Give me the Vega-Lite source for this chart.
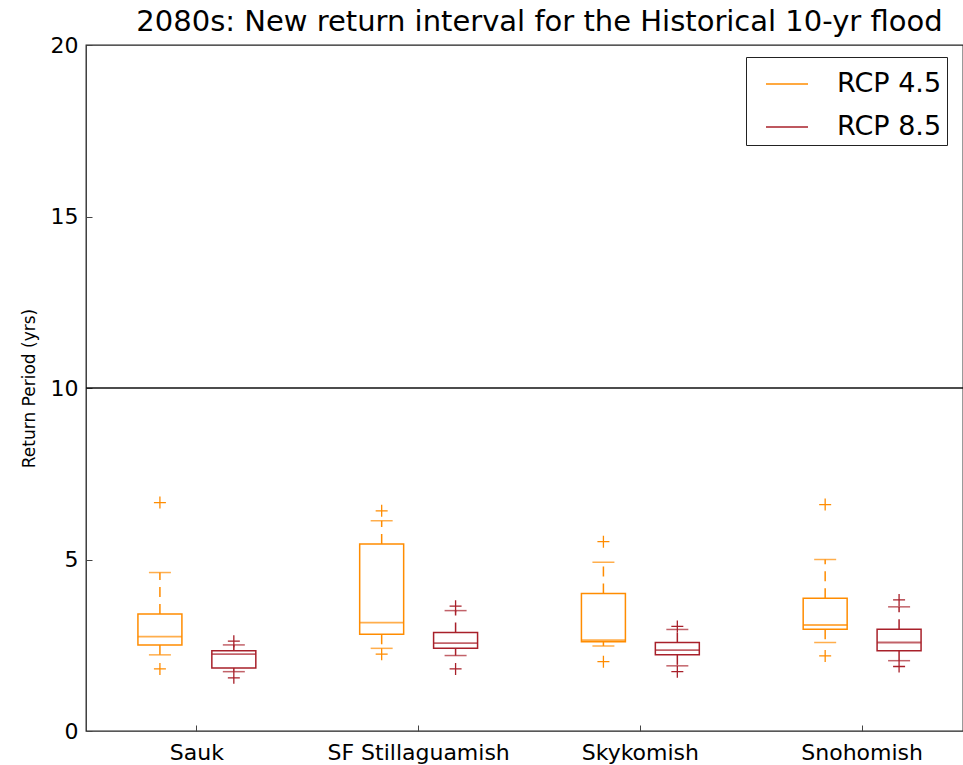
{
  "$schema": "https://vega.github.io/schema/vega-lite/v6.json",
  "autosize": {"type": "none"},
  "padding": {"left": 86, "top": 45, "right": 0, "bottom": 34},
  "width": 877,
  "height": 686,
  "background": "white",
  "title": {
    "text": "2080s: New return interval for the Historical 10-yr flood",
    "font": "DejaVu Sans",
    "fontSize": 29,
    "fontWeight": "normal",
    "color": "black",
    "anchor": "middle",
    "frame": "group",
    "baseline": "alphabetic",
    "offset": 12,
    "dy": 38,
    "dx": 15
  },
  "config": {
    "view": {"stroke": "#222", "strokeWidth": 1.3},
    "font": "DejaVu Sans",
    "axis": {"grid": false, "domain": false, "labelColor": "black", "tickColor": "#444", "labelFont": "DejaVu Sans"}
  },
  "datasets": {
    "boxes": [
      {"basin": "Sauk", "rcp": "RCP 4.5", "lower": 2.22, "q1": 2.51, "median": 2.75, "q3": 3.41, "upper": 4.62},
      {"basin": "Sauk", "rcp": "RCP 8.5", "lower": 1.73, "q1": 1.84, "median": 2.24, "q3": 2.34, "upper": 2.51},
      {"basin": "SF Stillaguamish", "rcp": "RCP 4.5", "lower": 2.41, "q1": 2.82, "median": 3.16, "q3": 5.45, "upper": 6.13},
      {"basin": "SF Stillaguamish", "rcp": "RCP 8.5", "lower": 2.20, "q1": 2.41, "median": 2.56, "q3": 2.87, "upper": 3.51},
      {"basin": "Skykomish", "rcp": "RCP 4.5", "lower": 2.48, "q1": 2.60, "median": 2.65, "q3": 4.01, "upper": 4.92},
      {"basin": "Skykomish", "rcp": "RCP 8.5", "lower": 1.90, "q1": 2.22, "median": 2.36, "q3": 2.58, "upper": 2.96},
      {"basin": "Snohomish", "rcp": "RCP 4.5", "lower": 2.58, "q1": 2.97, "median": 3.09, "q3": 3.87, "upper": 5.00},
      {"basin": "Snohomish", "rcp": "RCP 8.5", "lower": 2.05, "q1": 2.34, "median": 2.58, "q3": 2.97, "upper": 3.62}
    ],
    "outliers": [
      {"basin": "Sauk", "rcp": "RCP 4.5", "value": 6.66},
      {"basin": "Sauk", "rcp": "RCP 4.5", "value": 1.81},
      {"basin": "Sauk", "rcp": "RCP 8.5", "value": 2.62},
      {"basin": "Sauk", "rcp": "RCP 8.5", "value": 1.55},
      {"basin": "SF Stillaguamish", "rcp": "RCP 4.5", "value": 6.42},
      {"basin": "SF Stillaguamish", "rcp": "RCP 4.5", "value": 2.24},
      {"basin": "SF Stillaguamish", "rcp": "RCP 8.5", "value": 3.64},
      {"basin": "SF Stillaguamish", "rcp": "RCP 8.5", "value": 1.81},
      {"basin": "Skykomish", "rcp": "RCP 4.5", "value": 5.52},
      {"basin": "Skykomish", "rcp": "RCP 4.5", "value": 2.02},
      {"basin": "Skykomish", "rcp": "RCP 8.5", "value": 3.05},
      {"basin": "Skykomish", "rcp": "RCP 8.5", "value": 1.73},
      {"basin": "Snohomish", "rcp": "RCP 4.5", "value": 6.60},
      {"basin": "Snohomish", "rcp": "RCP 4.5", "value": 2.19},
      {"basin": "Snohomish", "rcp": "RCP 8.5", "value": 3.82},
      {"basin": "Snohomish", "rcp": "RCP 8.5", "value": 1.88}
    ],
    "refline": [{"value": 10}]
  },
  "encoding": {
    "x": {
      "field": "basin", "type": "nominal",
      "sort": ["Sauk", "SF Stillaguamish", "Skykomish", "Snohomish"],
      "scale": {"range": [0, 887], "paddingInner": 0, "paddingOuter": 0},
      "axis": {"title": null, "labelAngle": 0, "labelFontSize": 22, "labelLimit": 0, "tickSize": -6, "labelPadding": 17, "tickBand": "center"}
    },
    "xOffset": {
      "field": "rcp", "type": "nominal",
      "sort": ["RCP 4.5", "RCP 8.5"],
      "scale": {"paddingInner": 0.405, "paddingOuter": 0.7025}
    },
    "color": {
      "field": "rcp", "type": "nominal",
      "scale": {"domain": ["RCP 4.5", "RCP 8.5"], "range": ["#FF8C00", "#A8202A"]},
      "legend": {
        "title": null,
        "orient": "none",
        "legendX": 660,
        "legendY": 12,
        "symbolType": "stroke",
        "symbolSize": 1764,
        "symbolStrokeWidth": 1.5,
        "symbolOffset": 14,
        "labelFontSize": 27,
        "labelFont": "DejaVu Sans",
        "labelColor": "black",
        "labelOffset": 28,
        "rowPadding": 8,
        "padding": 5,
        "strokeColor": "#222",
        "fillColor": "white",
        "cornerRadius": 0
      }
    }
  },
  "layer": [
    {
      "data": {"name": "refline"},
      "mark": {"type": "rule", "color": "#111", "strokeWidth": 1.5},
      "encoding": {
        "x": null, "xOffset": null, "color": null,
        "y": {"field": "value", "type": "quantitative",
          "scale": {"domain": [0, 20], "nice": false},
          "axis": {"title": "Return Period (yrs)", "titleFontSize": 17, "titleFontWeight": "normal", "titleColor": "black", "titlePadding": 12,
                   "values": [0, 5, 10, 15, 20], "labelFontSize": 22, "tickSize": -6, "labelPadding": 14}}
      }
    },
    {
      "data": {"name": "boxes"},
      "mark": {"type": "rule", "strokeWidth": 1.5, "strokeDash": [10, 7]},
      "encoding": {"y": {"field": "q3", "type": "quantitative"}, "y2": {"field": "upper"}}
    },
    {
      "data": {"name": "boxes"},
      "mark": {"type": "rule", "strokeWidth": 1.5, "strokeDash": [10, 7]},
      "encoding": {"y": {"field": "q1", "type": "quantitative"}, "y2": {"field": "lower"}}
    },
    {
      "data": {"name": "boxes"},
      "mark": {"type": "bar", "filled": false, "strokeWidth": 1.5},
      "encoding": {"y": {"field": "q1", "type": "quantitative"}, "y2": {"field": "q3"}}
    },
    {
      "data": {"name": "boxes"},
      "mark": {"type": "tick", "size": 44, "thickness": 1.8},
      "encoding": {"y": {"field": "median", "type": "quantitative"}}
    },
    {
      "data": {"name": "boxes"},
      "mark": {"type": "tick", "size": 22, "thickness": 1.5},
      "encoding": {"y": {"field": "upper", "type": "quantitative"}}
    },
    {
      "data": {"name": "boxes"},
      "mark": {"type": "tick", "size": 22, "thickness": 1.5},
      "encoding": {"y": {"field": "lower", "type": "quantitative"}}
    },
    {
      "data": {"name": "outliers"},
      "mark": {"type": "point", "shape": "M-1,0H1M0,-1V1", "filled": false, "size": 144, "strokeWidth": 1.3, "opacity": 1},
      "encoding": {"y": {"field": "value", "type": "quantitative"}}
    }
  ]
}
